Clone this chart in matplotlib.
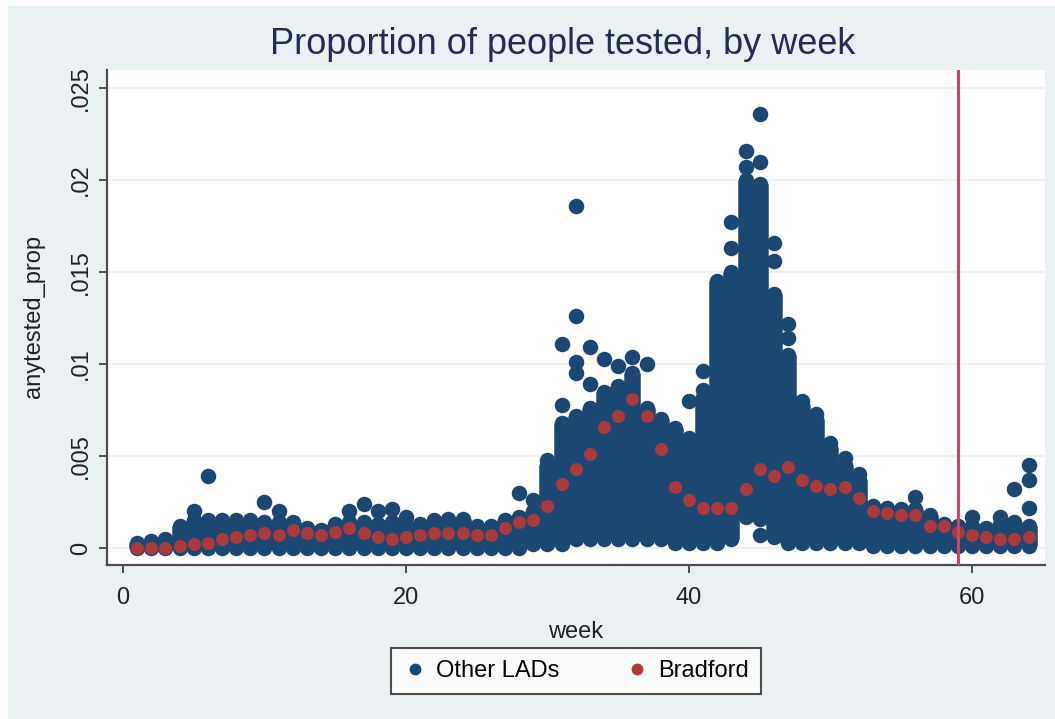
import matplotlib
matplotlib.use("Agg")
import matplotlib.pyplot as plt
from matplotlib.lines import Line2D
from matplotlib.patches import Rectangle
import numpy as np

plt.rcParams['font.family'] = ['Liberation Sans', 'DejaVu Sans']

# ---------------- data ----------------
weeks = list(range(1, 65))

# Other LADs: lowest and highest value of the dense cloud in each week
lad_low = [0.0] * 28 + [0.0002] * 3 + [0.0005] * 7 + [0.0003] * 4 + \
          [0.0005, 0.0017, 0.0016, 0.0006] + [0.0003] * 6 + [0.0001] * 12
lad_high = [0.0003, 0.0004, 0.0005, 0.0012, 0.0015, 0.0015, 0.0015, 0.0015,
            0.0015, 0.0014, 0.0014, 0.0014, 0.0011, 0.0010, 0.0013, 0.0014,
            0.0014, 0.0013, 0.0014, 0.0013, 0.0013, 0.0015, 0.0016, 0.0016,
            0.0012, 0.0012, 0.0015, 0.0017, 0.0020, 0.0045, 0.0068, 0.0072,
            0.0076, 0.0085, 0.0088, 0.0095, 0.0076, 0.0070, 0.0065, 0.0060,
            0.0082, 0.0145, 0.0150, 0.0200, 0.0198, 0.0138, 0.0105, 0.0078,
            0.0070, 0.0055, 0.0045, 0.0037, 0.0023, 0.0022, 0.0021, 0.0021,
            0.0018, 0.0013, 0.0012, 0.0012, 0.0011, 0.0013, 0.0014, 0.0012]

# Other LADs: individual points standing out from the cloud
lad_pt_week = [5, 6, 10, 11, 16, 17, 18, 19, 20, 28, 29, 30,
               31, 31, 32, 32, 32, 32, 33, 33, 34, 35, 36, 37,
               40, 41, 41, 43, 43, 44, 44, 45, 45, 45, 46, 46,
               47, 47, 48, 49, 50, 51, 52, 56, 60, 62, 63, 64, 64, 64]
lad_pt_value = [0.0020, 0.0039, 0.0025, 0.0020, 0.0020, 0.0024, 0.0020, 0.0021,
                0.0017, 0.0030, 0.0026, 0.0048,
                0.0111, 0.0078, 0.0186, 0.0126, 0.0101, 0.0095, 0.0109, 0.0089,
                0.0103, 0.0099, 0.0104, 0.0100,
                0.0080, 0.0096, 0.0086, 0.0177, 0.0163, 0.0216, 0.0207, 0.0236,
                0.0210, 0.0007, 0.0166, 0.0156,
                0.0122, 0.0114, 0.0080, 0.0073, 0.0057, 0.0049, 0.0040, 0.0028,
                0.0017, 0.0017, 0.0032, 0.0045, 0.0037, 0.0022]

# Bradford: one value per week
bradford = [0.0000, 0.0000, 0.0000, 0.0001, 0.0002, 0.0003, 0.0005, 0.0006,
            0.0007, 0.0008, 0.0007, 0.0010, 0.0008, 0.0007, 0.0009, 0.0011,
            0.0008, 0.0006, 0.0005, 0.0006, 0.0007, 0.0008, 0.0008, 0.0008,
            0.0007, 0.0007, 0.0011, 0.0014, 0.0015, 0.0023, 0.0035, 0.0043,
            0.0051, 0.0066, 0.0072, 0.0081, 0.0072, 0.0054, 0.0033, 0.0026,
            0.0022, 0.0022, 0.0022, 0.0032, 0.0043, 0.0039, 0.0044, 0.0037,
            0.0034, 0.0032, 0.0033, 0.0027, 0.0020, 0.0019, 0.0018, 0.0018,
            0.0012, 0.0012, 0.0009, 0.0007, 0.0006, 0.0005, 0.0005, 0.0006]

cutoff_week = 59
x_ticks = [0, 20, 40, 60]
y_ticks = [0, 0.005, 0.01, 0.015, 0.02, 0.025]
y_ticklabels = ["0", ".005", ".01", ".015", ".02", ".025"]

title = "Proportion of people tested, by week"
x_label = "week"
y_label = "anytested_prop"
legend_labels = ["Other LADs", "Bradford"]

# ---------------- styling ----------------
W, H = 1055, 719
BG = "#eaf1f3"
BLUE = "#1b4872"
RED = "#ab3a3c"
VLINE = "#d2436a"
AXIS = "#4d4d4d"

fig = plt.figure(figsize=(W / 100, H / 100), dpi=100)
fig.patch.set_facecolor("white")
fig.patches.append(Rectangle((8 / W, 0), 1 - 8 / W, 1 - 6 / H,
                             transform=fig.transFigure, facecolor=BG,
                             edgecolor="none", zorder=-10))

ax = fig.add_axes([107 / W, 1 - 565 / H, (1045 - 107) / W, (565 - 70) / H])
ax.set_facecolor("white")

blue_d = 15.5 / 100 * 72   # marker diameter in points
col_w = 16.5 / 100 * 72    # width of the dense cloud column in points
red_d = 13 / 100 * 72

ax.vlines(weeks, lad_low, lad_high, colors=BLUE, linewidth=col_w,
          zorder=2)
ax.scatter(weeks, lad_low, s=blue_d ** 2, color=BLUE, linewidths=0, zorder=2)
ax.scatter(weeks, lad_high, s=blue_d ** 2, color=BLUE, linewidths=0, zorder=2)
ax.scatter(lad_pt_week, lad_pt_value, s=blue_d ** 2, color=BLUE,
           linewidths=0, zorder=2)
ax.scatter(weeks, bradford, s=red_d ** 2, color=RED, linewidths=0, zorder=3)

ax.axvline(cutoff_week, color=VLINE, linewidth=2.2, zorder=4)

ax.set_xlim(-1.13, 65.16)
ax.set_ylim(-0.00092, 0.02598)

ax.set_yticks(y_ticks)
ax.set_yticklabels(y_ticklabels, rotation=90, va="center")
ax.set_xticks(x_ticks)
ax.grid(axis="y", color=BG, linewidth=1.3, zorder=0)
ax.set_axisbelow(True)

for s in ["top", "right"]:
    ax.spines[s].set_visible(False)
for s in ["left", "bottom"]:
    ax.spines[s].set_color(AXIS)
    ax.spines[s].set_linewidth(1.6)

ax.tick_params(axis="both", direction="out", length=6, width=1.4,
               color=AXIS, labelsize=17, labelcolor="#222222")
ax.tick_params(axis="y", pad=5)
ax.tick_params(axis="x", pad=10)

ax.set_xlabel(x_label, fontsize=17, color="#222222")
ax.xaxis.set_label_coords((576 - 107) / 938, -(621 - 565) / 495)
ax.set_ylabel(y_label, fontsize=17, color="#222222")
ax.yaxis.set_label_coords(-(107 - 45) / 938, (565 - 317) / 495)

fig.text(563 / W, 1 - 45 / H, title, fontsize=26, color="#232c55",
         ha="center", va="center")

handles = [Line2D([], [], linestyle="none", marker="o", markersize=7.5,
                  markerfacecolor=BLUE, markeredgecolor=BLUE),
           Line2D([], [], linestyle="none", marker="o", markersize=7.5,
                  markerfacecolor=RED, markeredgecolor=RED)]
leg = fig.legend(handles, legend_labels, ncol=2, loc="center",
                 bbox_to_anchor=(576 / W, 1 - 671 / H), fontsize=17,
                 frameon=True, fancybox=False, edgecolor="#222222",
                 handletextpad=0.4, columnspacing=2.8, borderpad=0.5,
                 handlelength=1.0)
leg.get_frame().set_linewidth(1.5)
leg.get_frame().set_facecolor("white")

fig.savefig("out.png", dpi=100, facecolor=fig.get_facecolor())
